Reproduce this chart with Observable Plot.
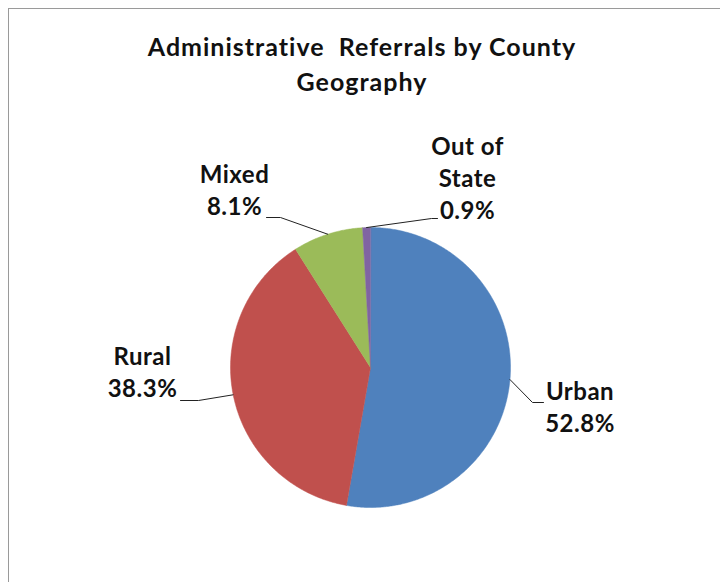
<!DOCTYPE html>
<html><head><meta charset="utf-8">
<script src="https://cdn.jsdelivr.net/npm/d3@7"></script>
<script src="https://cdn.jsdelivr.net/npm/@observablehq/plot@0.6"></script>
<style>
html,body{margin:0;padding:0;background:#fff;}
#wrap{position:relative;width:720px;height:582px;overflow:hidden;}
#frame{position:absolute;left:8px;top:8px;width:740px;height:600px;border-left:1px solid #9a9a9a;border-top:1px solid #9a9a9a;}
#title{position:absolute;left:2px;top:29px;width:720px;text-align:center;font-family:Lato,"Open Sans",sans-serif;font-weight:bold;font-size:25px;letter-spacing:1px;font-variant-ligatures:none;line-height:35px;color:#111;}
#chart{position:absolute;left:0;top:100px;}
</style></head>
<body>
<div id="wrap">
  <div id="frame"></div>
  <div id="title">Administrative&nbsp; Referrals by County<br>Geography</div>
  <div id="chart"></div>
</div>
<script>
// ---- data ----
const categories = ["Urban", "Rural", "Mixed", "Out of State"];
const shares = [52.8, 38.3, 8.1, 0.9];
const labelNames = ["Urban", "Rural", "Mixed", "Out of\nState"];
const colors = ["#4F81BD", "#C0504D", "#9BBB59", "#8064A2"];

// ---- layout (label placement, in units of pie radius from the centre; y up) ----
const W = 720, H = 482, CX = 370, CY = 267, R = 140;
const u = (px, py) => [(px - CX) / R, (CY - py) / R];
const labelLayout = {
  "Urban":        {text: u(579.5, 305.5), elbow: u(532, 302), end: u(543, 302)},
  "Rural":        {text: u(142, 270.5),   elbow: u(198, 300), end: u(180, 300)},
  "Mixed":        {text: u(234, 88),      elbow: u(280, 117), end: u(266, 117)},
  "Out of State": {text: u(467, 76.5),    elbow: u(431, 118), end: u(437, 118)}
};

// ---- geometry from the data ----
const total = d3.sum(shares);
const slices = [];
const leaders = [];
const labels = [];
let acc = 0;
categories.forEach((c, i) => {
  const a0 = acc / total * 2 * Math.PI;
  acc += shares[i];
  const a1 = acc / total * 2 * Math.PI;
  slices.push({cat: c, x: 0, y: 0});
  const n = Math.max(2, Math.ceil((a1 - a0) / (Math.PI / 360)));
  for (let k = 0; k <= n; k++) {
    const a = a0 + (a1 - a0) * k / n;
    slices.push({cat: c, x: Math.sin(a), y: Math.cos(a)});
  }
  const am = (a0 + a1) / 2;
  const L = labelLayout[c];
  leaders.push({cat: c, x: Math.sin(am), y: Math.cos(am)});
  leaders.push({cat: c, x: L.elbow[0], y: L.elbow[1]});
  leaders.push({cat: c, x: L.end[0], y: L.end[1]});
  labels.push({cat: c, x: L.text[0], y: L.text[1], text: labelNames[i] + "\n" + shares[i].toFixed(1) + "%"});
});

const chart = Plot.plot({
  width: W, height: H,
  margin: 0,
  x: {domain: [-CX / R, (W - CX) / R], range: [0, W], axis: null},
  y: {domain: [-(H - CY) / R, CY / R], range: [H, 0], axis: null},
  color: {domain: categories, range: colors},
  style: {background: "transparent", overflow: "visible", letterSpacing: "0.5px"},
  marks: [
    Plot.line(slices, {x: "x", y: "y", z: "cat", fill: "cat", stroke: "cat", strokeWidth: 0.5, curve: "linear-closed"}),
    Plot.line(leaders, {x: "x", y: "y", z: "cat", stroke: "#222", strokeWidth: 1}),
    Plot.text(labels, {x: "x", y: "y", text: "text", textAnchor: "middle", lineAnchor: "middle", lineHeight: 1.33,
      fontFamily: "Lato, 'Open Sans', sans-serif", fontWeight: "bold", fontSize: 24, fill: "#111"})
  ]
});
document.getElementById("chart").appendChild(chart);
</script>
</body></html>
